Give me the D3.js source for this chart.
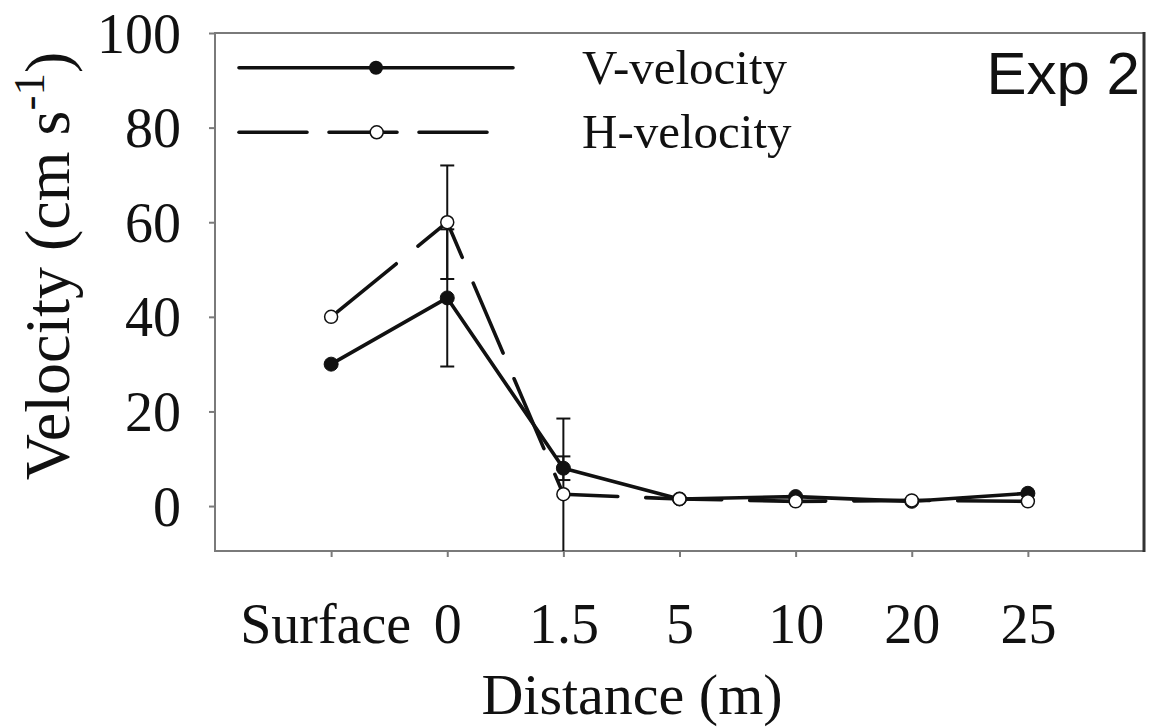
<!DOCTYPE html>
<html>
<head>
<meta charset="utf-8">
<script src="https://cdn.jsdelivr.net/npm/d3@7"></script>
<style>
  html, body { margin: 0; padding: 0; background: #fff; }
  svg { display: block; }
  .serif { font-family: "Liberation Serif", "Times New Roman", serif; fill: #111; }
  .sans { font-family: "Liberation Sans", Arial, sans-serif; fill: #111; }
</style>
</head>
<body>
<svg id="chart" width="1149" height="727"></svg>
<script>
// ---- data ----
const categories = ["Surface", "0", "1.5", "5", "10", "20", "25"];
const vVelocity = [30, 44, 8, 1.5, 2.0, 1.0, 2.7];
const hVelocity = [40, 60, 2.5, 1.5, 1.0, 1.2, 1.0];
const vError = [0, 14.5, 2.5, 0, 0, 0, 0];
const hError = [0, 12, 16, 0, 0, 0, 0];
const yTicks = [0, 20, 40, 60, 80, 100];
const seriesNames = ["V-velocity", "H-velocity"];
const panelLabel = "Exp 2";
const xTitle = "Distance (m)";

// ---- layout ----
const svg = d3.select("#chart");
const pL = 215, pR = 1144, pT = 33, pB = 551;
const x = d3.scaleLinear().domain([0, categories.length + 1]).range([pL, pR]);
const y = d3.scaleLinear().domain([-9.5, 100]).range([pB, pT]);
const frameColor = "#7a7a7a";

svg.append("defs").append("clipPath").attr("id", "plotClip")
  .append("rect").attr("x", pL).attr("y", pT).attr("width", pR - pL).attr("height", pB - pT);

// frame
svg.append("rect").attr("x", pL).attr("y", pT).attr("width", pR - pL).attr("height", pB - pT)
  .attr("fill", "none").attr("stroke", frameColor).attr("stroke-width", 2);
svg.append("line").attr("x1", pR).attr("x2", pR).attr("y1", pT - 1).attr("y2", pB + 1)
  .attr("stroke", "#333").attr("stroke-width", 3);

// axes
const yAxis = d3.axisLeft(y).tickValues(yTicks).tickSize(6).tickFormat(d3.format("d"));
const gy = svg.append("g").attr("transform", `translate(${pL},0)`).call(yAxis);
gy.select(".domain").remove();
gy.selectAll(".tick line").attr("stroke", frameColor).attr("stroke-width", 2);
gy.selectAll(".tick text").attr("class", "serif").attr("font-size", 56).attr("x", -34).attr("dy", "0.34em")
  .attr("fill", "#111");

const xAxis = d3.axisBottom(x).tickValues(d3.range(1, categories.length + 1)).tickSize(6)
  .tickFormat(i => categories[i - 1]);
const gx = svg.append("g").attr("transform", `translate(0,${pB})`).call(xAxis);
gx.select(".domain").remove();
gx.selectAll(".tick line").attr("stroke", frameColor).attr("stroke-width", 2);
gx.selectAll(".tick text").attr("class", "serif").attr("font-size", 56).attr("y", 92).attr("dy", 0)
  .attr("fill", "#111");
gx.selectAll(".tick text").filter((d, i) => i === 0).attr("dx", -6);

// axis titles
svg.append("text").attr("class", "serif").attr("font-size", 58)
  .attr("x", 632).attr("y", 714).attr("text-anchor", "middle").text(xTitle);

const yt = svg.append("text").attr("class", "serif").attr("font-size", 64)
  .attr("text-anchor", "middle")
  .attr("transform", "translate(69,266) rotate(-90)");
yt.append("tspan").text("Velocity (cm s");
yt.append("tspan").attr("font-size", 45).attr("dy", -25).text("-1");
yt.append("tspan").attr("dy", 25).text(")");

// panel label
svg.append("text").attr("class", "sans").attr("font-size", 60)
  .attr("x", 1140).attr("y", 94).attr("text-anchor", "end").text(panelLabel);

// ---- data marks ----
const plot = svg.append("g").attr("clip-path", "url(#plotClip)");
const idx = d3.range(categories.length);

function errorBars(vals, errs) {
  idx.filter(i => errs[i] > 0).forEach(i => {
    const cx = x(i + 1);
    const hi = vals[i] + errs[i], lo = vals[i] - errs[i];
    plot.append("line").attr("x1", cx).attr("x2", cx).attr("y1", y(hi)).attr("y2", y(lo))
      .attr("stroke", "#111").attr("stroke-width", 2);
    [hi, lo].forEach(v => {
      plot.append("line").attr("x1", cx - 7).attr("x2", cx + 7).attr("y1", y(v)).attr("y2", y(v))
        .attr("stroke", "#111").attr("stroke-width", 2);
    });
  });
}
errorBars(hVelocity, hError);
errorBars(vVelocity, vError);

const line = d3.line().x(i => x(i + 1));
plot.append("path").datum(idx)
  .attr("d", line.y(i => y(hVelocity[i])))
  .attr("fill", "none").attr("stroke", "#111").attr("stroke-width", 3.6)
  .attr("stroke-dasharray", "76,28").attr("stroke-dashoffset", -8)
  .attr("stroke-linecap", "round").attr("stroke-linejoin", "round");
plot.append("path").datum(idx)
  .attr("d", line.y(i => y(vVelocity[i])))
  .attr("fill", "none").attr("stroke", "#111").attr("stroke-width", 3.6)
  .attr("stroke-linejoin", "round");

plot.selectAll("circle.v").data(idx).join("circle").attr("class", "v")
  .attr("cx", i => x(i + 1)).attr("cy", i => y(vVelocity[i])).attr("r", 7)
  .attr("fill", "#111").attr("stroke", "#111").attr("stroke-width", 1);
plot.selectAll("circle.h").data(idx).join("circle").attr("class", "h")
  .attr("cx", i => x(i + 1)).attr("cy", i => y(hVelocity[i])).attr("r", 6.5)
  .attr("fill", "#fff").attr("stroke", "#111").attr("stroke-width", 1.5);

// ---- legend ----
const leg = svg.append("g");
const legY = [67.7, 132.3];
leg.append("line").attr("x1", 239).attr("x2", 513).attr("y1", legY[0]).attr("y2", legY[0])
  .attr("stroke", "#111").attr("stroke-width", 3.6).attr("stroke-linecap", "round");
leg.append("circle").attr("cx", 376).attr("cy", legY[0]).attr("r", 7).attr("fill", "#111");
leg.append("line").attr("x1", 239).attr("x2", 487).attr("y1", legY[1]).attr("y2", legY[1])
  .attr("stroke", "#111").attr("stroke-width", 3.6).attr("stroke-linecap", "round")
  .attr("stroke-dasharray", "68,22");
leg.append("circle").attr("cx", 376.7).attr("cy", legY[1]).attr("r", 6.5)
  .attr("fill", "#fff").attr("stroke", "#111").attr("stroke-width", 1.5);
seriesNames.forEach((n, k) => {
  leg.append("text").attr("class", "serif").attr("font-size", 49)
    .attr("x", 582).attr("y", legY[k] + 16).text(n);
});
</script>
</body>
</html>
